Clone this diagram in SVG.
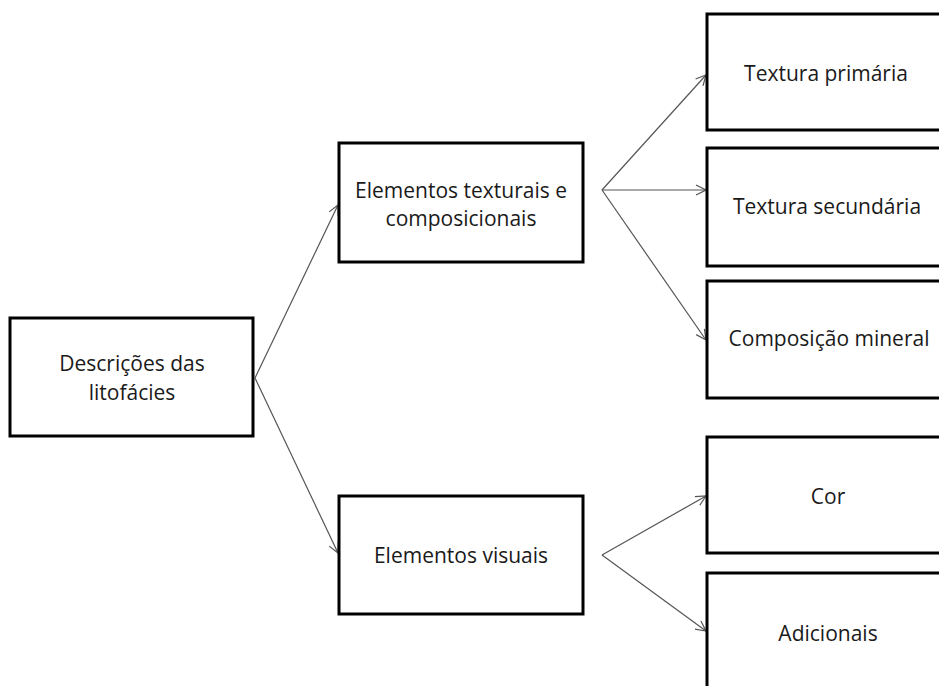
<svg xmlns="http://www.w3.org/2000/svg" width="939" height="686" viewBox="0 0 939 686">
<style>
.box{fill:#fff;stroke:#000;stroke-width:3}
.lbl{font-family:"Open Sans","Noto Sans",sans-serif;font-size:21px;fill:#1a1a1a;text-anchor:middle}
.con{stroke:#555;stroke-width:1.2;fill:none;marker-end:url(#arr)}
</style>
<defs>
<marker id="arr" markerUnits="userSpaceOnUse" markerWidth="12" markerHeight="12" viewBox="0 0 12 12" refX="11" refY="6" orient="auto">
<path d="M1,1 L11,6 L1,11" fill="none" stroke="#555" stroke-width="1.2"/>
</marker>
</defs>
<rect width="939" height="686" fill="#fff"/>
<g id="connectors">
<line class="con" x1="255" y1="378" x2="338" y2="205"/>
<line class="con" x1="255" y1="378" x2="338" y2="553"/>
<line class="con" x1="602" y1="190" x2="706" y2="75"/>
<line class="con" x1="602" y1="190" x2="706" y2="190"/>
<line class="con" x1="602" y1="190" x2="706" y2="340"/>
<line class="con" x1="602" y1="555" x2="706" y2="496"/>
<line class="con" x1="602" y1="555" x2="706" y2="631"/>
</g>
<g id="n-descricoes">
<rect class="box" x="10" y="318" width="243" height="118"/>
<text class="lbl" x="132" y="371">Descrições das</text>
<text class="lbl" x="132" y="400">litofácies</text>
</g>
<g id="n-texturais">
<rect class="box" x="339" y="143" width="244" height="119"/>
<text class="lbl" x="461" y="198">Elementos texturais e</text>
<text class="lbl" x="461" y="226">composicionais</text>
</g>
<g id="n-visuais">
<rect class="box" x="339" y="496" width="244" height="118"/>
<text class="lbl" x="461" y="563">Elementos visuais</text>
</g>
<g id="n-primaria">
<rect class="box" x="707" y="14" width="245" height="116"/>
<text class="lbl" x="826" y="81">Textura primária</text>
</g>
<g id="n-secundaria">
<rect class="box" x="707" y="148" width="245" height="118"/>
<text class="lbl" x="827" y="214">Textura secundária</text>
</g>
<g id="n-composicao">
<rect class="box" x="707" y="281" width="245" height="117"/>
<text class="lbl" x="829" y="346">Composição mineral</text>
</g>
<g id="n-cor">
<rect class="box" x="707" y="437" width="245" height="116"/>
<text class="lbl" x="828" y="504">Cor</text>
</g>
<g id="n-adicionais">
<rect class="box" x="707" y="573" width="245" height="130"/>
<text class="lbl" x="828" y="641">Adicionais</text>
</g>
</svg>
